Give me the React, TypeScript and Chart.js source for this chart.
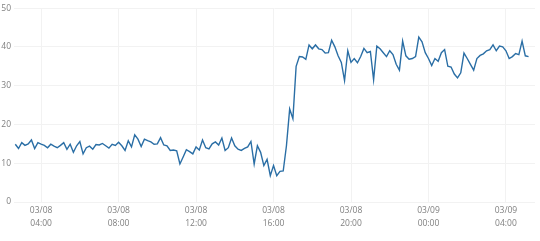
import React, { useEffect, useRef } from "react";
import { Chart, registerables } from "chart.js";

Chart.register(...registerables);

// minutes since 03/08 00:00, one sample every 10 minutes starting 02:40
const startMinute = 160;
const stepMinutes = 10;

const values: number[] = [
  14.9, 13.8, 15.3, 14.6, 15.0, 16.0, 13.8, 15.3, 14.9, 14.6,
  14.0, 14.9, 14.4, 14.0, 14.6, 15.3, 13.6, 14.9, 12.8, 14.5,
  15.6, 12.4, 14.0, 14.4, 13.6, 14.8, 14.7, 15.1, 14.5, 13.9,
  14.9, 14.6, 15.4, 14.5, 13.3, 15.8, 14.2, 17.3, 16.2, 14.3,
  16.2, 15.8, 15.5, 14.9, 15.0, 16.6, 14.7, 14.5, 13.3, 13.4,
  13.2, 9.8, 11.6, 13.5, 13.0, 12.4, 14.2, 13.4, 16.0, 14.0,
  13.7, 15.0, 15.5, 14.7, 16.5, 13.3, 14.0, 16.5, 14.5, 13.6,
  13.3, 13.8, 14.2, 15.6, 9.8, 14.5, 12.8, 9.4, 11.0, 6.8,
  9.4, 6.8, 7.9, 8.0, 14.5, 24.0, 21.5, 35.0, 37.5, 37.4,
  36.8, 40.5, 39.5, 40.5, 39.5, 39.3, 38.4, 38.5, 41.7, 40.0,
  37.7, 36.0, 31.3, 39.0, 36.0, 37.0, 35.9, 37.5, 39.6, 38.5,
  38.8, 31.5, 40.2, 39.5, 38.5, 37.5, 39.0, 38.0, 35.5, 34.0,
  41.5, 37.7, 36.8, 37.0, 37.5, 42.5, 41.3, 38.5, 37.0, 35.2,
  37.0, 36.3, 38.5, 39.3, 35.0, 34.8, 33.0, 32.0, 33.3, 38.4,
  37.0, 35.5, 34.0, 37.0, 37.8, 38.2, 39.0, 39.3, 40.5, 39.0,
  40.2, 40.0, 39.0, 37.0, 37.5, 38.3, 38.0, 41.5, 37.7, 37.5,
];

const minutes: number[] = values.map((_, i) => startMinute + i * stepMinutes);

const xTickValues: number[] = [240, 480, 720, 960, 1200, 1440, 1680];
const xTickDates: string[] = ["03/08", "03/08", "03/08", "03/08", "03/08", "03/09", "03/09"];
const xTickTimes: string[] = ["04:00", "08:00", "12:00", "16:00", "20:00", "00:00", "04:00"];

const yTicks: number[] = [0, 10, 20, 30, 40, 50];

export default function App() {
  const ref = useRef<HTMLCanvasElement | null>(null);

  useEffect(() => {
    document.body.style.margin = "0";
    const canvas = ref.current;
    if (!canvas) return;
    const chart = new Chart(canvas, {
      type: "line",
      data: {
        datasets: [
          {
            data: minutes.map((m, i) => ({ x: m, y: values[i] })),
            borderColor: "#2a6ea5",
            borderWidth: 1.4,
            pointRadius: 0,
            tension: 0,
            fill: false,
          },
        ],
      },
      options: {
        animation: false,
        responsive: false,
        maintainAspectRatio: false,
        layout: { padding: { top: 8, right: 5, left: 0, bottom: 0 } },
        plugins: { legend: { display: false }, tooltip: { enabled: false } },
        scales: {
          x: {
            type: "linear",
            min: 156,
            max: 1770,
            afterBuildTicks: (scale: any) => {
              scale.ticks = xTickValues.map((v) => ({ value: v }));
            },
            afterFit: (scale: any) => {
              scale.height = 39;
            },
            ticks: {
              autoSkip: false,
              maxRotation: 0,
              padding: 2,
              color: "#808080",
              font: { family: "'Open Sans', sans-serif", size: 8.5, lineHeight: 1.5 },
              callback: (v: any) => {
                const idx = xTickValues.indexOf(Number(v));
                return idx >= 0 ? [xTickDates[idx], xTickTimes[idx]] : "";
              },
            },
            grid: { color: "#f2f2f2", drawTicks: false },
            border: { display: false },
          },
          y: {
            min: 0,
            max: 50,
            afterBuildTicks: (scale: any) => {
              scale.ticks = yTicks.map((v) => ({ value: v }));
            },
            afterFit: (scale: any) => {
              scale.width = 14;
            },
            ticks: {
              padding: 3,
              color: "#808080",
              font: { family: "'Open Sans', sans-serif", size: 8.5 },
            },
            grid: { color: "#f2f2f2", drawTicks: false },
            border: { display: false },
          },
        },
      },
    });
    return () => chart.destroy();
  }, []);

  return (
    <div style={{ position: "fixed", left: 0, top: 0, width: 540, height: 241, background: "#fff" }}>
      <canvas ref={ref} width={540} height={241} style={{ display: "block" }} />
    </div>
  );
}
